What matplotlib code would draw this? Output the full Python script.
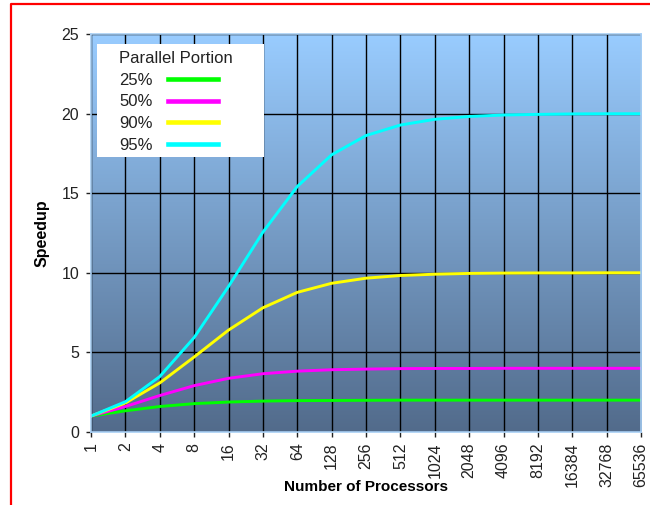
#!/usr/bin/env python3

# Amdahl style speedup chart: speedup vs number of processors
import numpy as np
import matplotlib as mpl
import matplotlib.pyplot as plt
from matplotlib.patches import Rectangle
from matplotlib.lines import Line2D
from matplotlib.colors import LinearSegmentedColormap

plt.rcParams['font.family'] = ['Liberation Sans', 'DejaVu Sans']

# Data
processors = ["1", "2", "4", "8", "16", "32", "64", "128", "256", "512", "1024",
              "2048", "4096", "8192", "16384", "32768", "65536"]
labels = ["25%", "50%", "90%", "95%"]
colors = ["#00FF00", "#FF00FF", "#FFFF00", "#00FFFF"]
speedup_25 = [1.00, 1.33, 1.60, 1.78, 1.88, 1.94, 1.97, 1.98, 1.99, 2.00, 2.00,
              2.00, 2.00, 2.00, 2.00, 2.00, 2.00]
speedup_50 = [1.00, 1.60, 2.29, 2.91, 3.37, 3.66, 3.82, 3.91, 3.95, 3.98, 3.99,
              3.99, 4.00, 4.00, 4.00, 4.00, 4.00]
speedup_90 = [1.00, 1.82, 3.08, 4.71, 6.40, 7.80, 8.77, 9.34, 9.66, 9.83, 9.91,
              9.96, 9.98, 9.99, 9.99, 10.00, 10.00]
speedup_95 = [1.00, 1.90, 3.48, 5.93, 9.14, 12.55, 15.42, 17.41, 18.62, 19.28, 19.64,
              19.82, 19.91, 19.95, 19.98, 19.99, 19.99]
series = [speedup_25, speedup_50, speedup_90, speedup_95]

fig = plt.figure(figsize=(6.5, 5.05), dpi=100)
fig.patch.set_facecolor('white')
ax = fig.add_axes([0.14, 0.1446, 0.8462, 0.7881])

x = np.arange(len(processors))
ymax = 25

# gradient background
grad = LinearSegmentedColormap.from_list('bg', ['#526B8B', '#99CCFF'])
ax.imshow(np.linspace(0, 1, 256).reshape(-1, 1), cmap=grad, aspect='auto',
          origin='lower', extent=[x[0], x[-1], 0, ymax], zorder=0)

for vals, lab, col in zip(series, labels, colors):
    ax.plot(x, vals, color=col, lw=2.1, label=lab, zorder=2)

ax.set_xlim(x[0], x[-1])
ax.set_ylim(0, ymax)
ax.set_xticks(x)
ax.set_xticklabels(processors, rotation=90, fontsize=11.5)
ax.set_yticks(range(0, ymax + 1, 5))
ax.tick_params(axis='y', labelsize=11.5, length=3.6, width=1, pad=5, colors='#222222')
ax.tick_params(axis='x', length=3.6, width=1, pad=4, colors='#222222')

ax.set_axisbelow(True)
ax.grid(True, color='black', lw=1)
for s in ax.spines.values():
    s.set_color('#A8CFF5')
    s.set_linewidth(1.2)

ax.set_xlabel("Number of Processors", fontsize=11, fontweight='bold')
ax.set_ylabel("Speedup", fontsize=11.5, fontweight='bold')
ax.xaxis.set_label_coords(0.5, -0.12)
ax.yaxis.set_label_coords(-0.075, 0.5)

# legend box
ax.add_patch(Rectangle((0.0109, 0.691), 0.3036, 0.284, transform=ax.transAxes,
                       facecolor='white', edgecolor='none', zorder=4))
leg = ax.legend(title="Parallel Portion", loc='upper left', bbox_to_anchor=(0.0509, 0.957),
                frameon=False, markerfirst=False, borderpad=0, borderaxespad=0,
                fontsize=12, title_fontsize=12, labelspacing=0.4, handlelength=3.0,
                handletextpad=0.95, alignment='left')
leg.set_zorder(5)
for ln in leg.get_lines():
    ln.set_linewidth(3.3)
for t in leg.get_texts():
    t.set_color('#222222')
leg.get_title().set_color('#222222')

# red frame
fig.add_artist(Line2D([11 / 650, 11 / 650, 1], [0, 1 - 4 / 505, 1 - 4 / 505],
                      transform=fig.transFigure, color='red', lw=1.6))

fig.savefig("out.png", dpi=100)
